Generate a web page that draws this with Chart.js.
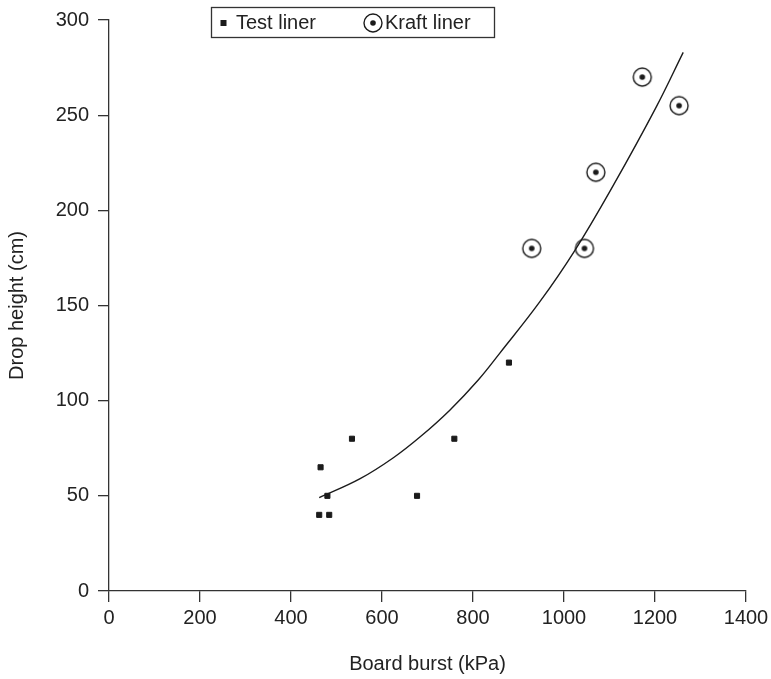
<!DOCTYPE html>
<html>
<head>
<meta charset="utf-8">
<script src="https://cdn.jsdelivr.net/npm/chart.js@4.4.1/dist/chart.umd.min.js"></script>
<style>
  html, body { margin: 0; padding: 0; background: #ffffff; }
  #wrap { width: 771px; height: 679px; position: relative; }
</style>
</head>
<body>
<div id="wrap"><canvas id="c" width="771" height="679"></canvas></div>
<script>
// ---- Data ----
const testLinerBurst  = [465, 480, 462, 484, 534, 677, 759, 879];
const testLinerHeight = [65, 50, 40, 40, 80, 50, 80, 120];

const kraftLinerBurst  = [929, 1045, 1070, 1172, 1253];
const kraftLinerHeight = [180, 180, 220, 270, 255];

// trend curve, points
const trendBurst  = [462, 552, 625, 684, 749, 812, 859, 947, 1024, 1108, 1202, 1262];
const trendHeight = [49, 59, 70, 81, 95, 111, 125, 152, 179, 213, 254, 283];

const xTicks = [0, 200, 400, 600, 800, 1000, 1200, 1400];
const yTicks = [0, 50, 100, 150, 200, 250, 300];

const seriesNames = ['Test liner', 'Kraft liner'];
const xTitle = 'Board burst (kPa)';
const yTitle = 'Drop height (cm)';

// ---- Build ----
const ink = '#1b1b1b';
const axisInk = '#333333';
const FONT = '"Liberation Sans", Arial, Helvetica, sans-serif';

function zip(xs, ys) { return xs.map((x, i) => ({ x: x, y: ys[i] })); }

// circled-dot marker for Kraft liner
function makeCircleDot(r, dotR, lw) {
  const size = 2 * Math.ceil(r + lw) + 2;
  const cv = document.createElement('canvas');
  cv.width = size; cv.height = size;
  const g = cv.getContext('2d');
  const c = size / 2;
  g.strokeStyle = ink; g.lineWidth = lw;
  g.beginPath(); g.arc(c, c, r, 0, Math.PI * 2); g.stroke();
  g.fillStyle = ink;
  g.beginPath(); g.arc(c, c, dotR, 0, Math.PI * 2); g.fill();
  return cv;
}
const kraftMarker = makeCircleDot(9, 2.8, 1.4);

// legend drawn in a box inside the plot, as in the reference
const boxLegend = {
  id: 'boxLegend',
  afterDraw(chart) {
    const ctx = chart.ctx;
    ctx.save();
    ctx.strokeStyle = axisInk;
    ctx.lineWidth = 1.3;
    ctx.fillStyle = '#ffffff';
    ctx.fillRect(211.5, 7.5, 283, 30);
    ctx.strokeRect(211.5, 7.5, 283, 30);
    // square marker
    ctx.fillStyle = ink;
    ctx.fillRect(220.5, 20, 6, 6);
    ctx.font = '20px ' + FONT;
    ctx.textBaseline = 'middle';
    ctx.textAlign = 'left';
    ctx.fillStyle = '#222';
    ctx.fillText(seriesNames[0], 236, 23);
    // circle-dot marker
    ctx.drawImage(kraftMarker, 373 - kraftMarker.width / 2, 23 - kraftMarker.height / 2);
    ctx.fillText(seriesNames[1], 385, 23);
    ctx.restore();
  }
};

const tickFont = { family: FONT, size: 20 };

new Chart(document.getElementById('c'), {
  type: 'scatter',
  data: {
    datasets: [
      {
        label: 'trend',
        data: zip(trendBurst, trendHeight),
        showLine: true,
        borderColor: ink,
        borderWidth: 1.4,
        pointRadius: 0,
        tension: 0.4,
        fill: false,
        order: 3
      },
      {
        label: seriesNames[0],
        data: zip(testLinerBurst, testLinerHeight),
        pointStyle: 'rect',
        pointRadius: 3.6,
        pointBorderWidth: 1,
        backgroundColor: ink,
        borderColor: ink,
        order: 2
      },
      {
        label: seriesNames[1],
        data: zip(kraftLinerBurst, kraftLinerHeight),
        pointStyle: kraftMarker,
        pointRadius: 10,
        backgroundColor: ink,
        borderColor: ink,
        order: 1
      }
    ]
  },
  options: {
    responsive: false,
    animation: false,
    events: [],
    layout: { padding: { top: 20, right: 25, left: 0, bottom: 0 } },
    plugins: {
      legend: { display: false },
      tooltip: { enabled: false },
      title: { display: false }
    },
    scales: {
      x: {
        type: 'linear',
        min: xTicks[0],
        max: xTicks[xTicks.length - 1],
        afterBuildTicks: (s) => { s.ticks = xTicks.map(v => ({ value: v })); },
        afterFit: (s) => { s.height = 88; s.paddingLeft = 0; s.paddingRight = 0; },
        border: { display: true, color: axisInk, width: 1.3 },
        grid: { display: true, drawOnChartArea: false, drawTicks: true, tickLength: 11, color: axisInk, lineWidth: 1.3 },
        ticks: { color: '#222', font: tickFont, padding: 4, maxRotation: 0, callback: (v) => String(v) },
        title: { display: true, text: xTitle, color: '#222', font: { family: FONT, size: 20 }, padding: { top: 0, bottom: 3 } }
      },
      y: {
        type: 'linear',
        min: yTicks[0],
        max: yTicks[yTicks.length - 1],
        afterBuildTicks: (s) => { s.ticks = yTicks.map(v => ({ value: v })); },
        afterFit: (s) => { s.width = 109; s.paddingTop = 0; s.paddingBottom = 0; },
        border: { display: true, color: axisInk, width: 1.3 },
        grid: { display: true, drawOnChartArea: false, drawTicks: true, tickLength: 11, color: axisInk, lineWidth: 1.3 },
        ticks: { color: '#222', font: tickFont, padding: 9, callback: (v) => String(v) },
        title: { display: true, text: yTitle, color: '#222', font: { family: FONT, size: 20 }, padding: { top: 5, bottom: 0 } }
      }
    }
  },
  plugins: [boxLegend]
});
</script>
</body>
</html>
